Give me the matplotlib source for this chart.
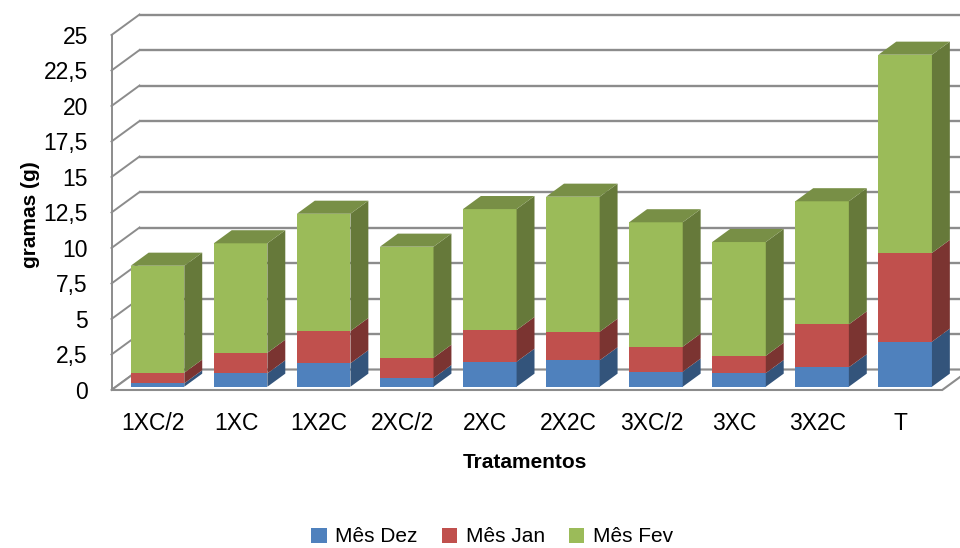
import matplotlib
matplotlib.use("Agg")
import matplotlib.pyplot as plt
from matplotlib.patches import Polygon, Patch
import numpy as np

plt.rcParams['font.family'] = ['Liberation Sans', 'DejaVu Sans']

categories = ["1XC/2", "1XC", "1X2C", "2XC/2", "2XC", "2X2C", "3XC/2", "3XC", "3X2C", "T"]
mes_dez = [0.24, 0.94, 1.65, 0.61, 1.76, 1.86, 1.06, 0.96, 1.37, 3.17]
mes_jan = [0.75, 1.45, 2.27, 1.43, 2.23, 2.01, 1.76, 1.22, 3.02, 6.25]
mes_fev = [7.53, 7.71, 8.26, 7.82, 8.52, 9.51, 8.76, 8.01, 8.67, 13.96]
series_names = ["Mês Dez", "Mês Jan", "Mês Fev"]
yticks = [0, 2.5, 5, 7.5, 10, 12.5, 15, 17.5, 20, 22.5, 25]
ytick_labels = ["0", "2,5", "5", "7,5", "10", "12,5", "15", "17,5", "20", "22,5", "25"]

colors = ["#4F81BD", "#C0504D", "#9BBB59"]
side_colors = ["#33547B", "#7B3431", "#66793A"]
top_colors = ["#3D6596", "#963F3C", "#788F46"]
grid_color = "#8C8C8C"

fig = plt.figure(figsize=(9.6, 5.48), dpi=100)
ax = fig.add_axes([111.5 / 960, 1 - 390 / 548, 830.7 / 960, 355 / 548])
ax.set_xlim(-0.5, 9.5)
ax.set_ylim(0, 25)
for s in ax.spines.values():
    s.set_visible(False)

# depth vector (full depth of the 3D box) in data units
DX, DY = 0.337, 1.44
x = np.arange(len(categories))

# back wall gridlines and left wall diagonals
for v in yticks:
    ax.plot([-0.5 + DX, 10.5], [v + DY, v + DY], color=grid_color, lw=1.7,
            clip_on=False, zorder=1, solid_capstyle='butt')
    ax.plot([-0.5, -0.5 + DX], [v, v + DY], color=grid_color, lw=1.4,
            clip_on=False, zorder=1)
# front-left vertical edge
ax.plot([-0.5, -0.5], [0, 25], color=grid_color, lw=1.4, clip_on=False, zorder=1)
# floor
floor = Polygon([(-0.5, 0), (9.5, 0), (9.5 + DX, DY), (-0.5 + DX, DY)],
                closed=True, facecolor="white", edgecolor=grid_color, lw=1.5,
                clip_on=False, zorder=1.5)
ax.add_patch(floor)

# bars
w = 0.645
d0, d1 = 0.16, 0.80
sx, sy = d0 * DX, d0 * DY
bx, by = (d1 - d0) * DX, (d1 - d0) * DY
series = [mes_dez, mes_jan, mes_fev]
bottom = np.zeros(len(categories))
for si, vals in enumerate(series):
    vals = np.array(vals)
    ax.bar(x + sx, vals, bottom=bottom + sy, width=w, color=colors[si],
           edgecolor='none', zorder=3, label=series_names[si])
    for i in range(len(categories)):
        xr = x[i] + sx + w / 2
        y0 = bottom[i] + sy
        y1 = bottom[i] + vals[i] + sy
        side = Polygon([(xr, y0), (xr + bx, y0 + by), (xr + bx, y1 + by), (xr, y1)],
                       closed=True, facecolor=side_colors[si], edgecolor='none',
                       zorder=3, clip_on=False)
        ax.add_patch(side)
        if si == len(series) - 1:
            xl = x[i] + sx - w / 2
            top = Polygon([(xl, y1), (xr, y1), (xr + bx, y1 + by), (xl + bx, y1 + by)],
                          closed=True, facecolor=top_colors[si], edgecolor='none',
                          zorder=3, clip_on=False)
            ax.add_patch(top)
    bottom = bottom + vals

ax.set_yticks(yticks)
ax.set_yticklabels(ytick_labels, fontsize=16.5)
ax.set_xticks(x)
ax.set_xticklabels(categories, fontsize=16.5)
ax.tick_params(axis='y', length=0, pad=17)
ax.tick_params(axis='x', length=0, pad=16)

fig.text(30 / 960, 1 - 215 / 548, "gramas (g)", rotation=90, fontsize=15,
         fontweight='bold', ha='center', va='center')
fig.text(525 / 960, 1 - 463 / 548, "Tratamentos", fontsize=15,
         fontweight='bold', ha='center', va='center')

handles = [Patch(facecolor=c, edgecolor='none') for c in colors]
fig.legend(handles, series_names, loc='center', bbox_to_anchor=(492 / 960, 1 - 537 / 548),
           ncol=3, frameon=False, fontsize=15, handlelength=0.75, handleheight=0.75,
           handletextpad=0.4, columnspacing=1.15)

fig.savefig("out.png", dpi=100)
